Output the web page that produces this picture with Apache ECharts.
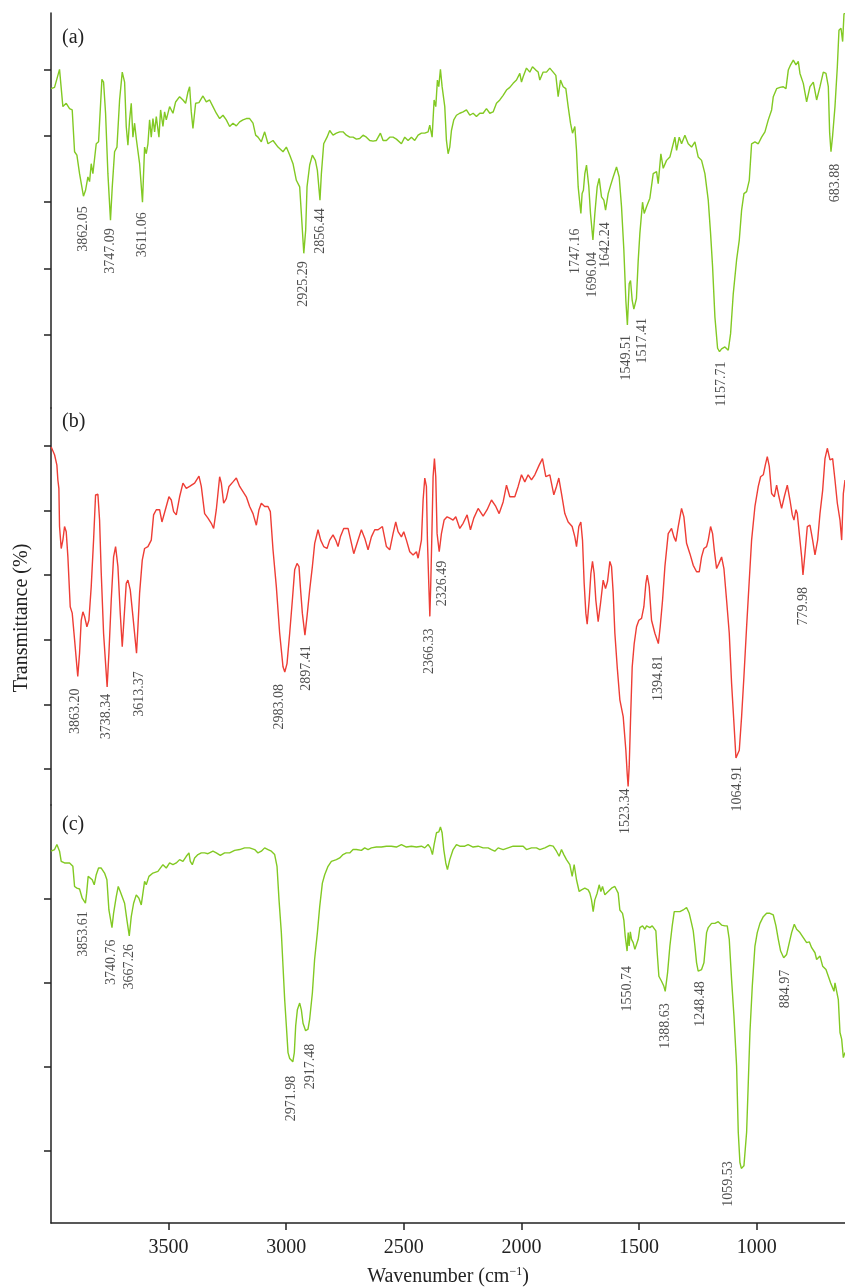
<!DOCTYPE html>
<html>
<head>
<meta charset="utf-8">
<script src="https://cdn.jsdelivr.net/npm/echarts@6/dist/echarts.min.js"></script>
<style>
  html, body { margin: 0; padding: 0; background: #fff; }
  #chart { width: 845px; height: 1288px; }
</style>
</head>
<body>
<div id="chart"></div>
<script>
// ---- data -------------------------------------------------------------
const xTicks = [3500, 3000, 2500, 2000, 1500, 1000];
const panelNames = ['(a)', '(b)', '(c)'];

// FTIR spectra: [wavenumber (cm^-1), transmittance (%)]
const spectrumA = [
[4000,77.1],[3984.9,77.3],[3963.7,80.0],[3949.5,74.4],[3935.3,74.9],[3921.1,74.1],[3909.8,73.9],[3899.8,67.6],[3889.9,67.1],[3878.6,64.3],
[3862.05,60.9],[3853.1,61.8],[3843.1,63.8],[3836.0,63.1],[3829.0,65.8],[3821.9,64.3],[3807.7,68.8],[3797.8,69.1],[3783.6,78.5],[3776.5,78.1],
[3768.0,73.4],[3758.1,64.3],[3747.09,57.3],[3739.6,62.3],[3729.7,67.6],[3719.6,68.3],[3708.4,75.4],[3697.1,79.6],[3687.1,78.1],[3680.1,71.4],
[3673.0,68.6],[3665.9,72.4],[3658.8,74.9],[3651.7,69.8],[3644.6,71.9],[3637.5,69.6],[3623.3,65.8],[3611.06,60.0],[3602.1,68.3],[3595.0,67.3],
[3587.9,68.8],[3580.8,72.4],[3573.7,69.8],[3566.6,72.6],[3559.5,70.6],[3552.4,72.9],[3541.1,69.8],[3534.0,73.9],[3524.1,71.4],[3517.0,73.6],
[3509.9,72.4],[3495.7,74.4],[3481.5,73.4],[3470.2,75.1],[3453.2,75.9],[3439.0,75.4],[3427.7,74.9],[3417.7,76.6],[3410.6,77.4],[3403.6,73.6],
[3396.5,71.1],[3385.1,74.9],[3371.0,75.0],[3353.9,76.0],[3339.7,75.1],[3325.6,75.4],[3311.4,74.4],[3297.2,73.4],[3283.0,72.6],[3268.8,73.1],
[3254.7,72.4],[3240.5,71.4],[3226.3,71.9],[3212.1,71.5],[3197.9,72.1],[3183.8,72.4],[3169.6,72.6],[3155.4,72.6],[3141.2,71.9],[3129.9,70.1],
[3119.9,69.8],[3105.8,69.1],[3091.6,70.6],[3077.4,68.8],[3056.1,69.3],[3034.9,68.3],[3013.6,67.6],[2999.4,68.3],[2985.2,67.1],[2971.1,65.8],
[2956.9,63.3],[2942.7,62.3],[2935.6,58.3],[2925.29,52.3],[2917.2,55.8],[2911.5,62.3],[2900.2,65.6],[2888.8,67.1],[2876.1,66.3],[2867.5,64.8],
[2856.44,60.3],[2850.5,64.3],[2840.6,68.8],[2826.4,69.8],[2815.1,70.8],[2800.9,70.1],[2786.7,70.4],[2772.5,70.6],[2758.4,70.6],[2744.2,70.1],
[2730.0,69.8],[2715.8,69.8],[2701.6,69.5],[2687.5,69.6],[2673.3,70.1],[2659.1,69.8],[2644.9,69.3],[2630.8,69.2],[2616.6,69.3],[2599.5,70.4],
[2588.2,69.3],[2574.0,69.3],[2559.8,69.8],[2545.7,69.8],[2531.5,69.5],[2510.2,68.8],[2496.0,69.8],[2481.9,69.3],[2467.7,69.8],[2453.5,69.3],
[2439.3,70.1],[2425.1,70.4],[2411.0,70.4],[2396.8,70.6],[2389.7,71.6],[2379.7,69.8],[2371.2,75.4],[2364.1,74.4],[2357.1,78.4],[2351.4,77.4],
[2344.3,80.0],[2337.2,77.4],[2333.0,77.6],[2325.9,74.4],[2318.8,69.3],[2311.7,67.3],[2304.6,68.3],[2297.5,70.8],[2287.6,72.4],[2276.2,73.1],
[2262.1,73.4],[2247.9,73.6],[2233.7,73.9],[2219.5,73.1],[2205.3,73.4],[2191.2,72.9],[2177.0,73.4],[2162.8,73.4],[2148.6,74.1],[2134.4,73.4],
[2120.3,73.6],[2106.1,74.9],[2091.9,75.4],[2077.7,76.1],[2063.5,76.9],[2049.4,77.3],[2035.2,77.9],[2021.0,78.4],[2006.8,79.4],[1999.7,78.1],
[1992.6,78.9],[1978.5,80.2],[1964.3,79.6],[1952.9,80.4],[1938.8,79.9],[1928.8,79.6],[1921.8,78.4],[1907.6,79.6],[1893.4,79.6],[1879.3,80.2],
[1865.1,79.6],[1853.7,79.1],[1843.8,75.9],[1833.9,78.4],[1822.5,77.4],[1811.2,77.1],[1801.3,74.4],[1791.3,71.9],[1782.8,70.4],[1772.9,71.4],
[1765.8,67.8],[1758.7,62.3],[1747.16,58.3],[1742.0,61.3],[1736.5,61.8],[1730.4,64.3],[1723.3,65.6],[1713.4,62.3],[1706.3,58.3],[1696.04,54.3],
[1687.8,58.3],[1677.9,62.3],[1669.4,63.6],[1659.5,60.8],[1649.5,60.3],[1642.24,58.8],[1631.1,61.3],[1621.2,62.5],[1609.8,63.8],[1595.7,65.3],
[1584.3,63.8],[1574.4,59.3],[1564.5,52.8],[1556.0,45.2],[1549.51,41.5],[1541.8,47.7],[1536.1,48.2],[1529.0,45.2],[1522.0,43.9],[1517.41,43.6],
[1511.0,45.5],[1503.5,51.2],[1496.4,55.3],[1485.1,60.0],[1478.0,58.3],[1468.0,59.3],[1453.9,60.6],[1439.7,64.3],[1425.5,64.6],[1418.4,62.8],
[1407.1,67.3],[1397.1,65.1],[1383.0,66.3],[1368.8,66.8],[1354.6,68.8],[1347.5,69.8],[1340.4,67.8],[1329.1,69.8],[1319.1,68.8],[1305.0,70.1],
[1290.8,68.8],[1276.6,68.3],[1262.4,69.1],[1248.3,66.8],[1234.1,66.3],[1219.9,64.3],[1205.7,60.3],[1195.8,55.3],[1187.3,50.3],[1177.4,42.7],
[1166.0,38.0],[1157.71,37.5],[1149.0,37.9],[1134.8,38.2],[1120.6,37.7],[1110.7,40.2],[1099.4,46.2],[1085.2,51.3],[1073.8,54.3],[1063.9,58.8],
[1054.0,61.3],[1042.6,61.6],[1031.3,63.3],[1021.4,68.8],[1007.2,69.1],[993.0,68.8],[978.8,69.8],[964.7,70.6],[950.5,72.4],[936.3,73.9],
[929.2,75.9],[915.0,77.1],[900.8,77.3],[886.7,77.4],[875.3,77.1],[865.4,79.9],[855.5,80.7],[844.1,81.4],[832.8,80.7],[822.9,81.2],
[815.8,79.4],[801.6,77.9],[787.4,75.1],[773.2,77.4],[759.0,78.1],[744.9,75.4],[730.7,77.4],[716.5,79.6],[705.2,79.4],[695.2,77.4],
[689.5,70.4],[683.88,67.6],[677.0,70.0],[666.9,74.4],[656.9,80.4],[649.9,85.9],[641.3,86.2],[634.3,84.2],[628.6,88.4],[624.3,88.4]
];

const spectrumB = [
[3976.1,79.8],[3961.9,78.6],[3952.0,77.0],[3947.8,74.7],[3943.5,73.4],[3940.7,67.5],[3933.6,64.1],[3926.5,65.4],[3919.4,67.5],[3912.3,66.7],
[3905.2,62.8],[3895.3,55.1],[3886.8,54.1],[3876.8,50.0],[3863.20,44.3],[3855.6,47.9],[3848.5,53.0],[3841.4,54.3],[3834.3,53.6],[3824.4,52.0],
[3815.9,53.0],[3806.0,58.2],[3796.0,65.4],[3787.5,72.4],[3777.6,72.5],[3770.5,68.5],[3763.4,60.3],[3753.5,51.0],[3738.34,42.7],[3730.8,47.9],
[3720.9,56.1],[3710.9,62.8],[3702.4,64.4],[3692.5,61.3],[3682.6,54.1],[3674.1,48.9],[3664.2,54.6],[3657.1,58.7],[3650.0,59.2],[3640.0,57.7],
[3628.7,53.6],[3613.37,47.9],[3607.4,52.0],[3600.3,57.2],[3589.0,62.3],[3579.1,64.1],[3564.9,64.4],[3550.7,65.4],[3540.8,69.3],[3529.4,70.1],
[3515.3,70.1],[3505.3,68.2],[3498.2,68.0],[3487.0,70.6],[3475.6,72.1],[3465.6,71.6],[3455.7,69.8],[3444.4,69.3],[3430.2,72.1],[3416.0,74.2],
[3401.8,73.4],[3387.6,73.7],[3366.4,74.2],[3347.9,75.3],[3338.0,73.7],[3323.8,69.5],[3309.7,68.8],[3295.5,68.0],[3285.5,67.2],[3274.2,70.1],
[3260.0,75.2],[3252.9,74.2],[3243.0,71.1],[3231.7,71.8],[3220.3,73.7],[3203.3,74.4],[3189.1,75.0],[3174.9,73.7],[3160.8,72.9],[3146.6,72.1],
[3132.4,70.6],[3118.2,69.5],[3104.0,67.7],[3092.7,70.1],[3082.8,71.1],[3068.6,70.6],[3054.4,70.6],[3044.5,69.8],[3033.1,63.9],[3019.0,58.2],
[3004.8,51.0],[2990.6,45.8],[2983.08,45.0],[2973.6,46.3],[2962.2,51.0],[2950.9,56.1],[2941.0,60.8],[2931.0,61.8],[2922.5,61.3],[2916.9,58.2],
[2908.4,54.1],[2897.41,50.7],[2888.5,53.6],[2877.2,57.7],[2865.8,61.3],[2855.9,64.9],[2841.7,67.0],[2830.4,65.4],[2817.6,64.4],[2803.4,64.1],
[2792.1,65.4],[2778.0,66.2],[2766.6,65.4],[2756.7,64.4],[2746.7,65.9],[2732.5,67.2],[2714.0,67.2],[2702.7,65.4],[2689.8,63.3],[2675.8,64.9],
[2657.4,67.0],[2643.2,65.7],[2629.0,63.9],[2614.8,65.9],[2600.6,67.0],[2586.5,67.0],[2568.0,67.5],[2551.0,64.4],[2536.8,63.9],[2522.7,66.4],
[2511.3,68.2],[2501.4,66.7],[2487.2,65.9],[2477.3,66.7],[2465.9,65.4],[2451.8,63.6],[2437.6,63.1],[2423.4,63.6],[2416.3,62.6],[2409.2,62.8],
[2402.1,65.4],[2395.0,71.6],[2387.9,75.0],[2380.9,73.7],[2376.6,65.4],[2370.9,58.7],[2366.33,53.6],[2362.4,58.7],[2358.2,65.4],[2352.5,75.2],
[2346.8,78.0],[2341.2,75.2],[2335.5,66.4],[2326.49,63.6],[2317.1,66.4],[2305.7,68.5],[2292.9,69.0],[2281.6,68.8],[2267.4,68.5],[2256.1,69.0],
[2239.1,67.2],[2224.9,68.0],[2207.9,69.3],[2193.7,67.0],[2179.5,68.8],[2161.0,70.3],[2139.8,69.1],[2122.8,70.1],[2104.3,71.6],[2085.9,70.6],
[2071.7,69.5],[2054.7,71.3],[2040.5,73.9],[2026.4,72.1],[2005.1,72.1],[1990.9,73.7],[1976.7,75.5],[1962.6,74.4],[1948.4,75.5],[1934.2,74.7],
[1920.0,75.5],[1901.6,77.0],[1887.5,78.0],[1873.3,75.2],[1856.3,75.5],[1839.2,72.4],[1827.9,73.7],[1818.0,75.0],[1806.6,72.6],[1792.5,69.5],
[1778.3,68.2],[1761.3,67.5],[1749.9,65.9],[1742.8,64.4],[1732.9,67.5],[1724.4,68.2],[1717.3,65.4],[1710.2,58.7],[1703.1,54.1],[1697.4,52.4],
[1688.9,56.1],[1681.8,60.2],[1674.8,62.1],[1667.7,60.2],[1660.6,56.1],[1650.7,52.8],[1640.7,55.6],[1629.4,59.2],[1619.5,57.9],[1610.9,59.0],
[1601.0,62.1],[1593.9,61.3],[1586.8,57.2],[1579.7,51.0],[1569.8,45.8],[1558.5,40.7],[1544.3,38.1],[1533.0,32.9],[1527.3,29.3],[1523.34,27.3],
[1518.8,30.4],[1513.1,37.6],[1506.0,45.8],[1497.5,49.4],[1487.6,52.0],[1477.7,53.0],[1466.3,53.3],[1456.4,55.1],[1447.9,58.7],[1442.2,60.0],
[1433.7,58.2],[1423.8,53.0],[1409.6,51.0],[1394.81,49.4],[1387.0,52.0],[1377.0,56.1],[1367.0,61.3],[1352.9,66.4],[1338.7,67.2],[1328.8,65.9],
[1320.3,65.2],[1310.3,67.5],[1296.2,70.3],[1286.2,69.0],[1274.9,64.9],[1260.7,63.3],[1246.5,61.5],[1232.3,60.5],[1221.0,60.5],[1211.1,62.8],
[1201.1,64.1],[1189.8,64.4],[1182.7,65.4],[1172.8,67.5],[1164.3,66.4],[1157.2,63.9],[1147.3,61.0],[1137.3,61.8],[1126.0,62.8],[1116.1,61.0],
[1104.7,56.1],[1093.4,51.0],[1083.4,43.2],[1073.5,37.1],[1064.91,31.7],[1050.8,32.9],[1040.9,38.1],[1031.0,44.3],[1019.6,52.0],[1008.3,59.2],
[998.4,65.4],[984.2,70.6],[970.0,73.7],[960.1,75.2],[948.7,75.5],[940.2,77.0],[931.7,78.3],[923.2,76.8],[913.3,72.6],[901.9,72.1],
[892.0,73.9],[882.1,72.1],[870.8,70.3],[859.4,72.1],[846.6,73.9],[835.3,71.6],[825.4,69.3],[818.3,68.5],[809.8,70.1],[804.1,69.5],
[795.6,66.4],[785.7,62.8],[779.98,60.0],[771.5,63.3],[761.6,67.5],[750.2,67.7],[738.9,65.4],[728.9,63.1],[717.6,65.4],[707.7,69.5],
[696.3,73.1],[686.4,78.0],[676.5,79.6],[665.1,77.8],[653.8,78.0],[643.9,74.7],[633.9,71.1],[622.6,68.5],[615.5,65.4],[608.4,72.6],[601.3,74.7]
];

const spectrumC = [
[4000,85.7],[3984.9,85.9],[3975.0,86.5],[3963.7,85.7],[3956.6,84.5],[3942.4,84.3],[3921.1,84.3],[3907.0,83.9],[3899.8,81.5],[3889.9,81.3],
[3878.6,81.2],[3867.2,80.1],[3853.61,79.5],[3848.5,80.7],[3842.0,82.7],[3836.0,82.5],[3824.7,82.3],[3816.2,81.7],[3807.7,82.9],[3797.8,83.7],
[3786.4,83.7],[3772.3,83.1],[3762.3,82.3],[3753.8,78.7],[3740.76,76.6],[3734.0,78.3],[3722.6,80.3],[3714.1,81.5],[3705.6,80.9],[3697.1,80.9],
[3687.1,79.5],[3677.2,77.5],[3667.26,75.6],[3658.8,77.9],[3648.8,79.5],[3637.5,80.5],[3626.2,80.1],[3616.2,79.3],[3609.1,79.1],[3602.1,82.1],
[3595.0,81.7],[3583.6,82.7],[3566.6,83.1],[3545.4,83.3],[3524.1,84.1],[3509.9,83.7],[3495.7,84.3],[3481.5,84.1],[3467.4,84.3],[3453.2,84.7],
[3439.0,84.5],[3424.8,85.1],[3413.5,85.5],[3407.8,84.5],[3399.3,84.1],[3389.4,84.9],[3375.2,85.3],[3361.0,85.5],[3346.8,85.5],[3332.7,85.4],
[3311.4,85.7],[3297.2,85.5],[3280.2,85.2],[3261.8,85.5],[3240.5,85.5],[3219.2,85.8],[3197.9,85.9],[3176.7,86.1],[3155.4,86.1],[3134.1,85.9],
[3120.0,85.5],[3105.8,85.7],[3091.6,86.1],[3077.4,85.9],[3063.2,85.7],[3049.1,85.3],[3039.1,83.9],[3030.6,79.9],[3020.7,76.0],[3013.6,72.0],
[3006.5,68.0],[2999.4,64.9],[2992.3,61.7],[2985.2,61.0],[2971.98,60.6],[2965.5,61.7],[2959.7,64.9],[2952.6,66.8],[2942.7,67.6],[2935.6,66.8],
[2928.5,65.2],[2917.48,64.3],[2907.3,64.5],[2900.2,65.7],[2888.8,68.8],[2879.3,72.8],[2867.5,76.0],[2857.6,79.1],[2846.3,81.9],[2836.4,82.9],
[2822.2,83.9],[2808.0,84.5],[2786.7,84.7],[2772.5,84.9],[2758.4,85.3],[2744.2,85.5],[2730.0,85.5],[2715.8,85.9],[2701.6,85.9],[2680.4,85.8],
[2666.2,86.1],[2652.0,85.9],[2637.8,86.1],[2616.6,86.2],[2595.3,86.2],[2574.0,86.3],[2552.8,86.3],[2531.5,86.2],[2510.2,86.5],[2489.0,86.2],
[2467.7,86.3],[2446.4,86.2],[2425.1,86.3],[2411.0,86.1],[2396.8,86.5],[2386.8,86.1],[2378.3,85.3],[2371.2,86.5],[2361.3,87.9],[2351.4,88.0],
[2344.3,88.6],[2337.2,87.9],[2330.1,85.9],[2321.6,84.3],[2314.5,83.5],[2304.6,84.7],[2290.4,85.9],[2276.2,86.5],[2262.1,86.3],[2240.8,86.3],
[2226.6,86.5],[2205.3,86.2],[2184.1,86.3],[2162.8,86.1],[2141.5,86.1],[2127.4,85.9],[2113.2,85.7],[2099.0,86.1],[2077.7,85.9],[2056.4,86.1],
[2035.2,86.3],[2013.9,86.3],[1992.6,86.3],[1978.5,85.9],[1957.2,86.1],[1935.9,86.1],[1921.8,85.9],[1900.5,86.1],[1879.3,86.4],[1865.1,86.3],
[1850.9,85.7],[1839.6,85.1],[1829.6,85.9],[1819.7,85.3],[1808.4,84.7],[1794.2,84.1],[1784.3,82.7],[1775.8,84.1],[1765.8,82.3],[1754.5,80.9],
[1744.6,81.1],[1730.4,81.3],[1716.2,81.1],[1709.1,80.7],[1702.0,79.9],[1694.9,78.5],[1687.8,79.9],[1677.9,80.7],[1669.4,81.7],[1662.3,80.9],
[1655.2,81.5],[1645.3,80.5],[1631.1,80.9],[1616.9,81.3],[1602.8,81.5],[1595.7,81.7],[1588.6,80.7],[1581.5,78.7],[1570.1,78.3],[1564.5,77.5],
[1558.8,75.6],[1550.74,73.8],[1546.0,76.0],[1542.0,74.4],[1537.0,76.1],[1531.9,75.2],[1524.8,74.8],[1517.7,74.0],[1510.6,74.0],[1503.5,75.2],
[1496.4,76.6],[1485.1,76.8],[1475.1,76.4],[1468.0,76.8],[1460.9,76.6],[1453.9,76.6],[1443.9,76.8],[1435.4,77.0],[1428.4,76.2],[1422.7,73.6],
[1415.6,70.8],[1404.2,70.2],[1394.3,69.6],[1388.63,69.0],[1378.7,71.2],[1368.8,74.4],[1358.9,76.8],[1350.3,78.5],[1340.4,78.5],[1326.2,78.5],
[1312.1,78.7],[1297.9,79.0],[1286.5,78.3],[1276.6,77.1],[1269.5,76.2],[1262.4,74.4],[1255.3,72.4],[1248.48,71.4],[1234.1,71.6],[1224.1,72.4],
[1212.8,76.0],[1205.7,76.6],[1191.5,77.1],[1177.4,77.1],[1163.2,77.3],[1149.0,76.9],[1134.8,76.8],[1124.9,76.8],[1116.4,75.2],[1106.5,70.4],
[1096.5,66.1],[1085.2,60.1],[1078.1,52.2],[1071.0,48.6],[1065.0,47.9],[1059.53,47.8],[1054.0,48.2],[1042.6,52.2],[1035.5,58.1],[1028.5,64.1],
[1018.5,69.6],[1007.2,74.4],[997.3,76.0],[985.9,77.1],[971.7,77.9],[957.6,78.3],[943.4,78.3],[929.2,78.1],[917.9,76.8],[907.9,75.2],
[898.0,73.8],[884.97,73.0],[872.5,73.4],[861.1,74.8],[851.2,76.0],[839.9,77.0],[830.0,76.4],[815.8,76.0],[801.6,75.4],[787.4,74.8],
[776.1,74.9],[766.1,74.2],[752.0,73.6],[744.9,72.8],[730.7,73.2],[719.3,72.0],[705.2,71.6],[695.2,70.8],[685.3,70.0],[676.8,70.2],
[671.1,69.0],[666.9,70.0],[659.8,70.1],[652.7,68.0],[645.6,64.1],[638.5,63.3],[631.4,61.1],[624.3,61.7]
];

// assigned band positions (cm^-1)
const peaksA = [3862.05, 3747.09, 3611.06, 2925.29, 2856.44, 1747.16, 1696.04, 1642.24, 1549.51, 1517.41, 1157.71, 683.88];
const peaksB = [3863.20, 3738.34, 3613.37, 2983.08, 2897.41, 2366.33, 2326.49, 1523.34, 1394.81, 1064.91, 779.98];
const peaksC = [3853.61, 3740.76, 3667.26, 2971.98, 2917.48, 1550.74, 1388.63, 1248.48, 1059.53, 884.97];

// ---- layout -----------------------------------------------------------
const SERIF = '"Liberation Serif", "DejaVu Serif", serif';
const INK = '#222';

// per-label nudge on screen: [dx, gap below the band minimum] in px
const nudgeA = [[-0.5,10],[0,8],[0,10],[0,8],[0,8],[-6,15],[-1,12],[0,12],[-1.5,10],[7,7],[2,10],[4,12]];
const nudgeB = [[-2,12],[-1,7],[3,18],[-5,12],[1.5,10],[-1,12],[3,9],[-3,2],[0,12],[1.5,8],[0,12]];
const nudgeC = [[-2.5,8],[-1,12],[0,8],[-1.5,14],[4.7,13],[0,15],[0,12],[1.7,10],[-14,-8],[2,12]];

// panel (b) lives on its own hidden wavenumber axis, registered 23 cm^-1 off the shared scale
const panels = [
  { top: 13,  height: 395, yMin: 29.0,  yMax: 88.5,  yTicks: [40,50,60,70,80],    xMin: 624.3, xMax: 4000, color: '#82c923', data: spectrumA, peaks: peaksA, nudge: nudgeA },
  { top: 408, height: 397, yMin: 24.43, yMax: 85.83, yTicks: [30,40,50,60,70,80], xMin: 601.3, xMax: 3977, color: '#ee3d35', data: spectrumB, peaks: peaksB, nudge: nudgeB },
  { top: 805, height: 419, yMin: 41.39, yMax: 91.21, yTicks: [50,60,70,80],       xMin: 624.3, xMax: 4000, color: '#82c923', data: spectrumC, peaks: peaksC, nudge: nudgeC }
];

function transmittanceAt(spec, wn) {
  let best = spec[0];
  for (const p of spec) if (Math.abs(p[0] - wn) < Math.abs(best[0] - wn)) best = p;
  return best[1];
}

const grids = [], xAxes = [], yAxes = [], series = [], graphics = [];

panels.forEach((pn, i) => {
  const last = i === panels.length - 1;
  grids.push({ left: 51, right: 0, top: pn.top, height: pn.height });

  xAxes.push(last ? {
    type: 'value', gridIndex: i, inverse: true, min: pn.xMin, max: pn.xMax,
    axisLine: { show: true, lineStyle: { color: INK, width: 1.5 } },
    axisTick: { show: true, customValues: xTicks, length: 7, lineStyle: { color: INK, width: 1.5 } },
    axisLabel: { customValues: xTicks, margin: 15, color: INK, fontFamily: SERIF, fontSize: 20, formatter: v => String(v) },
    splitLine: { show: false },
    name: '{a|Wavenumber (cm}{s|−1}{a|)}',
    nameLocation: 'middle', nameGap: 43,
    nameTextStyle: {
      rich: {
        a: { fontFamily: SERIF, fontSize: 20, color: INK, lineHeight: 22 },
        s: { fontFamily: SERIF, fontSize: 12, color: INK, verticalAlign: 'top', lineHeight: 14 }
      }
    }
  } : {
    type: 'value', gridIndex: i, inverse: true, min: pn.xMin, max: pn.xMax, show: false
  });

  yAxes.push({
    type: 'value', gridIndex: i, min: pn.yMin, max: pn.yMax,
    axisLine: { show: true, lineStyle: { color: INK, width: 1.5 } },
    axisTick: { show: true, customValues: pn.yTicks, length: 7, lineStyle: { color: INK, width: 1.5 } },
    axisLabel: { show: false },
    splitLine: { show: false }
  });

  series.push({
    type: 'line', xAxisIndex: i, yAxisIndex: i, data: pn.data,
    showSymbol: false, symbol: 'none', silent: true,
    lineStyle: { color: pn.color, width: 1.4 }
  });

  series.push({
    type: 'scatter', xAxisIndex: i, yAxisIndex: i, symbolSize: 0, silent: true, z: 5,
    data: pn.peaks.map((wn, k) => ({
      value: [wn, transmittanceAt(pn.data, wn)],
      // label frame is rotated 90deg: local x points up the page, local y to the right
      label: { offset: [-pn.nudge[k][1], pn.nudge[k][0]] }
    })),
    label: {
      show: true, position: 'bottom', distance: 0, rotate: 90,
      align: 'right', verticalAlign: 'middle',
      formatter: p => p.value[0].toFixed(2),
      fontFamily: SERIF, fontSize: 14, color: INK
    }
  });

  graphics.push({
    type: 'text', left: 62, top: pn.top + (i === 0 ? 15 : i === 1 ? 4 : 10),
    style: { text: panelNames[i], font: '20px ' + SERIF, fill: INK }
  });
});

graphics.push({
  type: 'text', x: 22, y: 618, rotation: Math.PI / 2,
  style: { text: 'Transmittance (%)', font: '20px ' + SERIF, fill: INK, align: 'center', verticalAlign: 'middle' }
});

const chart = echarts.init(document.getElementById('chart'), null, { renderer: 'canvas' });
chart.setOption({
  animation: false,
  backgroundColor: '#fff',
  grid: grids,
  xAxis: xAxes,
  yAxis: yAxes,
  series: series,
  graphic: graphics
});
</script>
</body>
</html>
